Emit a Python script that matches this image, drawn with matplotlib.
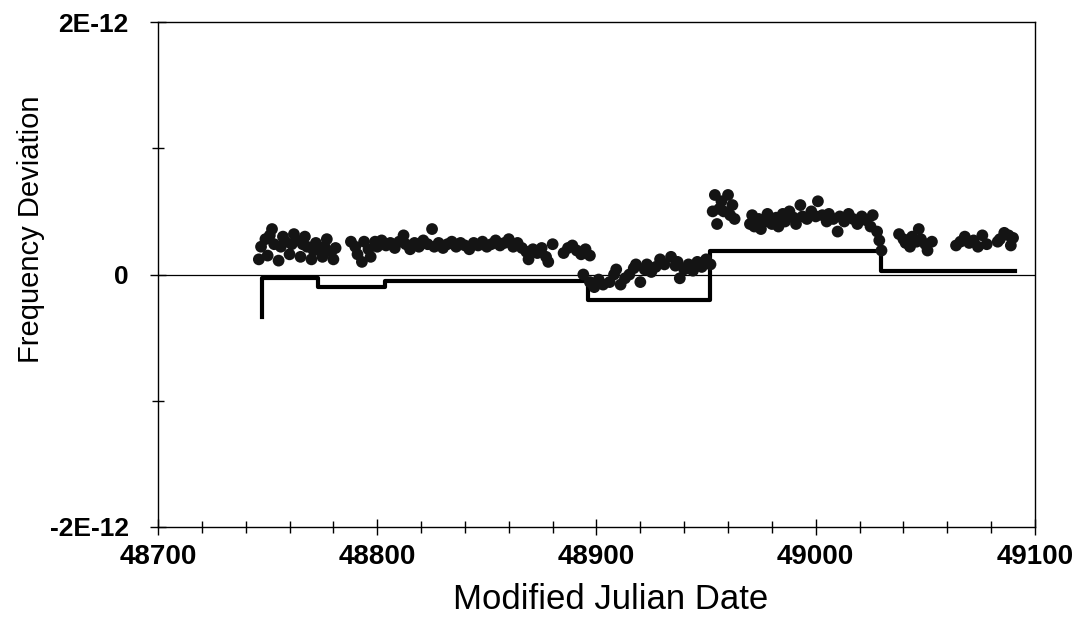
import numpy as np
import matplotlib
matplotlib.use("Agg")
import matplotlib.pyplot as plt
from matplotlib.ticker import MultipleLocator, FixedLocator

plt.rcParams['font.family'] = ['Liberation Sans', 'DejaVu Sans']

# measured frequency deviation (units of 1E-12) vs MJD
mjd_a = [48746, 48747, 48749, 48750, 48751, 48752, 48753, 48755, 48756, 48757,
         48758, 48760, 48761, 48762, 48763, 48765, 48766, 48767, 48768, 48770,
         48771, 48772, 48773, 48775, 48776, 48777, 48779, 48780, 48781]
dev_a = [0.12, 0.22, 0.28, 0.15, 0.31, 0.36, 0.24, 0.11, 0.22, 0.30,
         0.26, 0.16, 0.24, 0.32, 0.27, 0.14, 0.24, 0.30, 0.22, 0.12,
         0.19, 0.25, 0.20, 0.14, 0.22, 0.28, 0.18, 0.12, 0.21]

mjd_b = [48788, 48790, 48791, 48793, 48794, 48796, 48797, 48799, 48800, 48802,
         48804, 48806, 48808, 48810, 48812, 48813, 48815, 48817, 48819, 48821,
         48823, 48825, 48826, 48828, 48830, 48832, 48834, 48836, 48838, 48840,
         48842, 48844, 48846, 48848, 48850, 48852, 48854, 48856, 48858, 48860,
         48862, 48864, 48866, 48868, 48869, 48871, 48873, 48875, 48877, 48878,
         48880, 48885, 48887, 48889, 48891, 48893, 48895, 48897]
dev_b = [0.26, 0.22, 0.16, 0.10, 0.26, 0.20, 0.14, 0.26, 0.22, 0.27,
         0.23, 0.25, 0.21, 0.26, 0.31, 0.24, 0.20, 0.25, 0.22, 0.27,
         0.24, 0.36, 0.22, 0.25, 0.21, 0.24, 0.26, 0.22, 0.25, 0.23,
         0.20, 0.25, 0.23, 0.26, 0.22, 0.24, 0.27, 0.23, 0.25, 0.28,
         0.22, 0.25, 0.21, 0.18, 0.12, 0.20, 0.17, 0.21, 0.14, 0.10,
         0.24, 0.17, 0.21, 0.23, 0.19, 0.16, 0.20, 0.15]

mjd_c = [48894, 48897, 48899, 48901, 48903, 48906, 48908, 48909, 48911, 48913,
         48915, 48917, 48918, 48920, 48922, 48923, 48925, 48927, 48929, 48931,
         48934, 48936, 48937, 48938, 48940, 48942, 48944, 48946, 48948, 48950, 48952]
dev_c = [0.00, -0.06, -0.10, -0.04, -0.08, -0.06, 0.00, 0.04, -0.08, -0.03,
         0.00, 0.05, 0.08, -0.06, 0.04, 0.08, 0.02, 0.06, 0.12, 0.08,
         0.14, 0.07, 0.10, -0.03, 0.04, 0.08, 0.03, 0.10, 0.06, 0.12, 0.08]

mjd_d = [48953, 48954, 48955, 48956, 48957, 48958, 48960, 48961, 48962, 48963,
         48970, 48971, 48972, 48974, 48975, 48977, 48978, 48980, 48982, 48983,
         48985, 48986, 48988, 48990, 48991, 48993, 48994, 48996, 48998, 49000,
         49001, 49003, 49005, 49006, 49008, 49010, 49011, 49013, 49015, 49017,
         49019, 49021, 49023, 49025, 49026, 49028, 49029, 49030]
dev_d = [0.50, 0.63, 0.40, 0.52, 0.58, 0.50, 0.63, 0.47, 0.55, 0.44,
         0.40, 0.47, 0.38, 0.44, 0.36, 0.42, 0.48, 0.40, 0.45, 0.38,
         0.48, 0.42, 0.50, 0.45, 0.40, 0.55, 0.46, 0.44, 0.50, 0.46,
         0.58, 0.47, 0.42, 0.48, 0.44, 0.34, 0.46, 0.42, 0.48, 0.44,
         0.40, 0.46, 0.43, 0.38, 0.47, 0.34, 0.27, 0.19]

mjd_e = [49038, 49040, 49041, 49043, 49044, 49046, 49047, 49048, 49050, 49051,
         49053, 49064, 49066, 49068, 49070, 49072, 49074, 49076, 49078,
         49083, 49084, 49086, 49088, 49089, 49090]
dev_e = [0.32, 0.28, 0.25, 0.22, 0.30, 0.26, 0.36, 0.28, 0.24, 0.19,
         0.26, 0.23, 0.26, 0.30, 0.25, 0.27, 0.22, 0.31, 0.24,
         0.26, 0.28, 0.33, 0.31, 0.23, 0.29]

# model (step) values
step_mjd = [48747.5, 48747.5, 48773, 48803.5, 48896, 48952, 49030, 49091]
step_dev = [-0.34, -0.03, -0.10, -0.05, -0.20, 0.19, 0.03, 0.03]

fig = plt.figure(figsize=(10.8, 6.2), dpi=100)
ax = fig.add_axes([0.1463, 0.15, 0.812, 0.8145])

ax.axhline(0, color='black', lw=0.9, zorder=1)

for xs, ys in [(mjd_a, dev_a), (mjd_b, dev_b), (mjd_c, dev_c), (mjd_d, dev_d), (mjd_e, dev_e)]:
    ax.scatter(xs, ys, s=72, c='#141414', edgecolors='none', zorder=3)

ax.plot(step_mjd, step_dev, drawstyle='steps-post', color='black', lw=3, zorder=2)

ax.set_xlim(48700, 49100)
ax.set_ylim(-2, 2)
ax.xaxis.set_major_locator(MultipleLocator(100))
ax.xaxis.set_minor_locator(MultipleLocator(20))
ax.yaxis.set_major_locator(FixedLocator([-2, 0, 2]))
ax.yaxis.set_minor_locator(FixedLocator([-1, 1]))
ax.set_yticklabels(['-2E-12', '0', '2E-12'])

ax.tick_params(axis='both', which='major', direction='inout', length=12, width=1)
ax.tick_params(axis='both', which='minor', direction='inout', length=8, width=1)
ax.tick_params(axis='x', which='major', labelsize=20, pad=6)
ax.tick_params(axis='y', which='major', labelsize=19, pad=15)
for lab in ax.get_xticklabels() + ax.get_yticklabels():
    lab.set_fontweight('bold')

for sp in ax.spines.values():
    sp.set_linewidth(1)
    sp.set_color('black')

ax.set_xlabel('Modified Julian Date', fontsize=25)
ax.set_ylabel('Frequency Deviation', fontsize=21)
ax.xaxis.set_label_coords(0.5165, -0.11)
ax.yaxis.set_label_coords(-0.129, 0.59)

fig.savefig('out.png', dpi=100)
